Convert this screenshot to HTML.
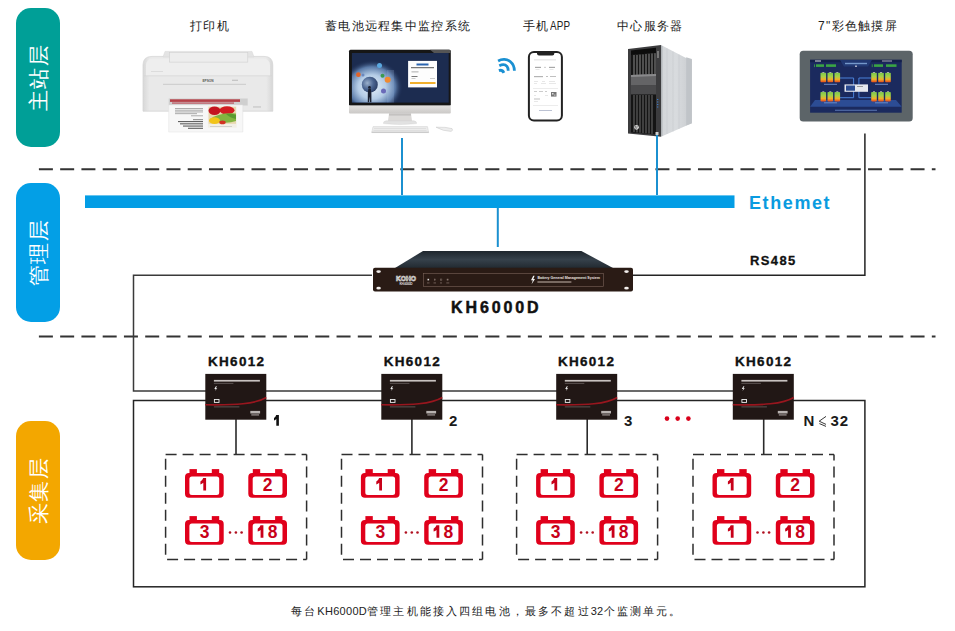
<!DOCTYPE html>
<html><head><meta charset="utf-8">
<style>
html,body{margin:0;padding:0;background:#fff;}
body{width:955px;height:631px;position:relative;overflow:hidden;font-family:"Liberation Sans",sans-serif;}
.a{position:absolute;}
.pill{position:absolute;left:16px;width:44px;height:139px;border-radius:15px;}
.pt{position:absolute;left:50%;top:50%;color:#fff;font-size:21px;line-height:21px;white-space:nowrap;transform:translate(-50%,-50%) rotate(-90deg);letter-spacing:1.5px;padding-left:1.5px;}
.lbl{position:absolute;font-size:12px;color:#222;white-space:nowrap;letter-spacing:1.3px;margin-top:1.5px;}
.kh{position:absolute;font-weight:bold;font-size:13.5px;color:#111;letter-spacing:1.3px;-webkit-text-stroke:0.35px #111;white-space:nowrap;}
.num{position:absolute;font-weight:bold;font-size:15px;color:#1a1a1a;white-space:nowrap;}
</style></head>
<body>
<!-- pills -->
<div class="pill" style="top:8px;background:#009f97;"><div class="pt">主站层</div></div>
<div class="pill" style="top:183px;background:#039fe6;"><div class="pt">管理层</div></div>
<div class="pill" style="top:421px;background:#f3a700;"><div class="pt">采集层</div></div>


<!-- printer -->
<svg class="a" style="left:0;top:0" width="955" height="160" viewBox="0 0 955 160">
  <defs>
    <linearGradient id="pside" x1="0" y1="0" x2="1" y2="0">
      <stop offset="0" stop-color="#d8d8d8"/>
      <stop offset="0.05" stop-color="#e9e9e9"/>
      <stop offset="0.95" stop-color="#e9e9e9"/>
      <stop offset="1" stop-color="#d6d6d6"/>
    </linearGradient>
  </defs>
  <path d="M143,111.2 V65 Q143,56.4 152,56.4 H264 Q272.8,56.4 272.8,65 V111.2 Z" fill="url(#pside)" stroke="#d2d2d2" stroke-width="0.7"/>
  <path d="M146,76 V66 Q146,58.5 153,58.5 H263 Q270,58.5 270,66 V76 Z" fill="#eeeeee"/>
  <path d="M163,57 L165,51.4 H252 L254,57 Z" fill="#e4e4e4" stroke="#d6d6d6" stroke-width="0.5"/>
  <rect x="169.4" y="52.3" width="78.4" height="9.8" fill="#ededed" stroke="#d0d0d0" stroke-width="0.6"/>
  <line x1="144" y1="75.8" x2="271.8" y2="75.8" stroke="#d4d4d4" stroke-width="0.7"/>
  <line x1="163" y1="84.3" x2="246" y2="84.3" stroke="#c6c6c6" stroke-width="0.9"/>
  <text x="208" y="81.8" font-family="Liberation Sans" font-weight="bold" font-size="3.2" fill="#555" text-anchor="middle">EPSON</text>
  <rect x="232" y="79.8" width="6" height="0.8" fill="#b0b0b0"/>
  <rect x="151" y="71" width="12" height="0.6" fill="#d0d0d0"/>
  <rect x="168.7" y="98.5" width="79" height="7" fill="#cfcfcf"/>
  <rect x="170" y="99.3" width="70" height="2.6" fill="#b54048"/>
  <rect x="172" y="102.3" width="62" height="1.6" fill="#c07078"/>
  <rect x="253" y="106.3" width="8" height="1.3" fill="#c8c8c8"/>
  <path d="M168.7,105 H242.8 V132 H168.7 Z" fill="#f7f7f7" stroke="#e0e0e0" stroke-width="0.5"/>
  <rect x="207.9" y="106.3" width="28.8" height="21.4" fill="#f2efe6"/>
  <rect x="208.6" y="106.8" width="27.4" height="17" fill="#e8d8b0"/>
  <ellipse cx="214.5" cy="110.8" rx="6" ry="4.2" fill="#c41420"/>
  <ellipse cx="227" cy="110.3" rx="7.5" ry="4" fill="#d21c22"/>
  <path d="M210,119 Q220,112 236,113.5 V121 Q228,124 218,122 Z" fill="#82b440"/>
  <path d="M226,114 Q231,113 236,115 V119 Q230,118 226,114 Z" fill="#5a9a30"/>
  <ellipse cx="214.5" cy="120.6" rx="5.5" ry="3.3" fill="#f2c418"/>
  <ellipse cx="222.5" cy="122.4" rx="3.2" ry="1.8" fill="#d23222"/>
  <rect x="210" y="126.2" width="22" height="0.6" fill="#bbb"/>
  <g fill="#8c8c8c">
    <rect x="175" y="108" width="28" height="0.7"/>
    <rect x="175" y="109.8" width="28" height="0.7"/>
    <rect x="175" y="111.6" width="28" height="0.7"/>
    <rect x="175" y="113.4" width="22" height="0.7"/>
    <rect x="191" y="115.5" width="12" height="0.7"/>
  </g>
  <g fill="#3c3c3c">
    <rect x="193" y="119.5" width="10" height="0.6"/>
    <rect x="178" y="121.2" width="25" height="0.9"/>
    <rect x="180" y="123.4" width="23" height="0.9"/>
    <rect x="183" y="125.6" width="20" height="0.9"/>
    <rect x="188" y="127.8" width="15" height="0.9"/>
  </g>
</svg>


<!-- monitor -->
<svg class="a" style="left:0;top:0" width="955" height="160" viewBox="0 0 955 160">
  <defs>
    <radialGradient id="glow" cx="0.5" cy="0.5" r="0.5">
      <stop offset="0" stop-color="#e6f0fa"/>
      <stop offset="0.45" stop-color="#b4cce6"/>
      <stop offset="0.75" stop-color="#5a7aa8"/>
      <stop offset="1" stop-color="#1c2c52" stop-opacity="0"/>
    </radialGradient>
    <radialGradient id="globe" cx="0.35" cy="0.4" r="0.75">
      <stop offset="0" stop-color="#9ab0cc"/>
      <stop offset="0.5" stop-color="#4a6490"/>
      <stop offset="1" stop-color="#24365c"/>
    </radialGradient>
    <linearGradient id="chin" x1="0" y1="0" x2="0" y2="1">
      <stop offset="0" stop-color="#e4e2e0"/>
      <stop offset="1" stop-color="#cac8c6"/>
    </linearGradient>
    <linearGradient id="neck" x1="0" y1="0" x2="1" y2="0">
      <stop offset="0" stop-color="#c8c8c8"/>
      <stop offset="0.5" stop-color="#ececec"/>
      <stop offset="1" stop-color="#c8c8c8"/>
    </linearGradient>
    <clipPath id="scr"><rect x="351.9" y="53" width="96.8" height="49.6"/></clipPath>
  </defs>
  <rect x="349" y="49.8" width="101.8" height="56" rx="1.5" fill="#161616"/>
  <path d="M430,49.8 H449.3 Q450.8,49.8 450.8,51.3 V53 H434 Z" fill="#555"/>
  <rect x="351.9" y="53" width="96.8" height="49.6" fill="#1c2c50"/>
  <g clip-path="url(#scr)">
    <ellipse cx="372" cy="87" rx="31" ry="27" fill="url(#glow)"/>
    <rect x="387" y="70" width="7" height="33" fill="#a8c4e4" opacity="0.2"/>
    <circle cx="369.8" cy="84.7" r="8" fill="url(#globe)"/>
    <path d="M368.4,88.6 h2.4 l0.6,5 v9 h-1.3 l-0.5,-6 l-0.5,6 h-1.3 v-9 z" fill="#1a2030"/>
    <circle cx="369.5" cy="87.2" r="1.3" fill="#1a2030"/>
    <circle cx="358.4" cy="74.7" r="2.4" fill="#e0642a"/>
    <circle cx="363" cy="75" r="1.5" fill="#6a88c0"/>
    <circle cx="379.5" cy="65.5" r="2.5" fill="#5aa8e0"/>
    <circle cx="382.5" cy="75.7" r="2" fill="#3a9a50"/>
    <circle cx="387.7" cy="79.7" r="3" fill="#f08a30"/>
    <circle cx="383.5" cy="91" r="2.5" fill="#6a6ab8"/>
    
  </g>
  <rect x="408.1" y="60.9" width="28.9" height="26.5" fill="#fdfdfd"/>
  <rect x="416.5" y="63.5" width="12" height="2" fill="#2a64b0"/>
  <rect x="411" y="67.2" width="23" height="1" fill="#555"/>
  <rect x="411.5" y="71.5" width="7" height="0.8" fill="#999"/>
  <rect x="411.5" y="76" width="6" height="0.8" fill="#555"/>
  <rect x="411.5" y="78" width="4" height="0.6" fill="#aaa"/>
  <rect x="430" y="78" width="5" height="0.6" fill="#aaa"/>
  <rect x="410" y="82.1" width="25.5" height="1.8" fill="#f0a818"/>
  <rect x="349" y="105.5" width="101.8" height="8" rx="1" fill="url(#chin)"/>
  <path d="M389,113.4 H411 L412,121 H388 Z" fill="#dcdad8"/><rect x="389" y="113.4" width="22" height="2.2" fill="#c4c2c0"/>
  <path d="M386,120.8 H414 Q417,121.5 416.5,123.6 Q400,125.6 383.5,123.6 Q383,121.5 386,120.8 Z" fill="#e2e2e2" stroke="#d0d0d0" stroke-width="0.4"/>
  <path d="M373,126.6 H427.5 L428.7,132.6 H371.7 Z" fill="#ececec" stroke="#d0d0d0" stroke-width="0.5"/>
  <g fill="#d2d2d2"><rect x="374" y="128.2" width="52" height="0.5"/><rect x="373.5" y="130" width="53" height="0.5"/></g><rect x="371.7" y="131.8" width="57" height="0.8" fill="#bbb"/>
  <path d="M436,127.2 Q446,126.8 452,128.6 Q453.5,130.6 451,131.4 Q443,131.2 436,127.2 Z" fill="#ededed" stroke="#c4c4c4" stroke-width="0.5"/>
</svg>


<!-- wifi, phone, server, touchscreen -->
<svg class="a" style="left:0;top:0" width="955" height="160" viewBox="0 0 955 160">
  <defs>
    <linearGradient id="side" x1="0" y1="0" x2="1" y2="0">
      <stop offset="0" stop-color="#a8acb0"/>
      <stop offset="0.08" stop-color="#d4d7da"/>
      <stop offset="0.5" stop-color="#d8dbde"/>
      <stop offset="0.85" stop-color="#cdd0d3"/>
      <stop offset="1" stop-color="#bcc0c4"/>
    </linearGradient>
    <linearGradient id="cell" x1="0" y1="0" x2="0" y2="1">
      <stop offset="0" stop-color="#7cc848"/>
      <stop offset="0.4" stop-color="#a8d048"/>
      <stop offset="0.7" stop-color="#f0b028"/>
      <stop offset="1" stop-color="#e84a1c"/>
    </linearGradient>
    <g id="cells">
      <rect x="0" y="0.8" width="5.6" height="9.4" rx="0.8" fill="url(#cell)"/>
      <rect x="7" y="0.8" width="5.6" height="9.4" rx="0.8" fill="url(#cell)"/>
      <rect x="14" y="0.8" width="5.6" height="9.4" rx="0.8" fill="url(#cell)"/>
      <rect x="1.8" y="0" width="2" height="1" fill="#aaa"/>
      <rect x="8.8" y="0" width="2" height="1" fill="#aaa"/>
      <rect x="15.8" y="0" width="2" height="1" fill="#aaa"/>
    </g>
  </defs>
  <!-- wifi -->
  <g stroke="#1a90d2" stroke-width="2.8" fill="none">
    <path d="M498.1,60.9 C501.8,58.9 507,58.9 510.2,61.5 C513,63.8 514.4,67 514.4,70.8"/>
    <path d="M499.3,65.8 C502.5,64.2 505.5,64.7 507,66.4 C508,67.6 508.2,69 508.2,70.8"/>
    <path d="M498.9,70.6 C500.8,69.9 502.8,70.6 503.9,72.8"/>
  </g>
  <!-- phone -->
  <rect x="528.9" y="52" width="33" height="68.4" rx="5" fill="#fff" stroke="#222" stroke-width="2"/>
  <path d="M537,52 H554.3 V53.5 Q554.3,55.4 552.3,55.4 H539 Q537,55.4 537,53.5 Z" fill="#222"/>
  <g fill="#d8d8d8">
    <rect x="534" y="59.5" width="22" height="0.8"/>
    <rect x="535" y="66.8" width="6" height="1.2" fill="#a8a8a8"/><rect x="549" y="66.8" width="6" height="1.2" fill="#a8a8a8"/>
    <rect x="544.5" y="66.8" width="1" height="1.2" fill="#a8a8a8"/>
    <rect x="535.5" y="69" width="4" height="0.6"/><rect x="549.5" y="69" width="4" height="0.6"/>
    <rect x="534" y="76" width="9" height="1.2" fill="#b4b4b4"/><rect x="546" y="76" width="2" height="1" fill="#c0c0c0"/><rect x="550" y="76" width="6" height="1" fill="#c0c0c0"/>
    <rect x="534" y="81.2" width="4" height="0.6"/><rect x="542" y="81.2" width="3" height="0.6"/><rect x="549" y="81.2" width="6" height="0.6"/>
    <rect x="534" y="83.3" width="3" height="0.6"/><rect x="541" y="83.3" width="5" height="0.6"/><rect x="549" y="83.3" width="7" height="0.6"/>
    <rect x="533" y="88" width="25" height="0.5"/>
    <rect x="534" y="91" width="3" height="0.8" fill="#c0c0c0"/><rect x="539" y="91" width="4" height="0.8" fill="#c0c0c0"/><rect x="545" y="91" width="2" height="0.8" fill="#c0c0c0"/>
    <rect x="534" y="95" width="2" height="0.6"/><rect x="545" y="95" width="3" height="0.6"/>
    <rect x="534" y="98.5" width="6" height="1" fill="#c0c0c0"/>
    <rect x="534" y="101" width="4" height="0.6"/>
    <rect x="533" y="105.5" width="25" height="0.5"/>
    <rect x="539" y="110" width="13" height="0.7" fill="#a0a8c0"/>
  </g>
  <rect x="551" y="92" width="5.5" height="4.6" fill="#777"/>
  <rect x="552" y="93" width="1.5" height="1.5" fill="#ddd"/><rect x="554" y="94.5" width="1.5" height="1.2" fill="#bbb"/>
  <!-- server -->
  <path d="M661,45 L687,58.5 L691.8,59.5 V123.2 L661,136.7 Z" fill="url(#side)"/>
  <g stroke="#c0c4c8" stroke-width="0.5"><line x1="667" y1="48.5" x2="667" y2="134"/><line x1="673" y1="51.5" x2="673" y2="131.5"/><line x1="679" y1="54.5" x2="679" y2="129"/></g>
  <path d="M686.2,57.3 L691.8,59 V123.2 L686.2,125.5 Z" fill="#c0c4c8"/>
  <path d="M628,48.9 L661,45 V136.7 L628,133.5 Z" fill="#3c3c3e"/>
  <path d="M631,50.5 L656,47.8 V53 L631,55 Z" fill="#0c0c0c"/>
  <path d="M631,55 L656,53 V74 L631,75 Z" fill="#151515"/>
  <g stroke="#8a8a8a" stroke-width="1">
    <line x1="634" y1="55" x2="634" y2="75"/><line x1="637" y1="55" x2="637" y2="75"/><line x1="640" y1="54.6" x2="640" y2="75"/><line x1="643" y1="54.4" x2="643" y2="75"/><line x1="646" y1="54" x2="646" y2="74.5"/><line x1="649" y1="53.8" x2="649" y2="74.5"/><line x1="652" y1="53.5" x2="652" y2="74.5"/><line x1="655" y1="53.2" x2="655" y2="74.5"/>
  </g>
  <path d="M631,75 L656,74 V85 L631,85.5 Z" fill="#646466"/><path d="M631,75 L656,74 V76 L631,77 Z" fill="#8a8a8c"/>
  <path d="M631,85.5 L656,85 V94.5 L631,94.5 Z" fill="#4a4a4c"/>
  <path d="M631,94.5 L656,94.5 V134.5 L631,132.5 Z" fill="#141414"/>
  <g stroke="#6a6a6a" stroke-width="1">
    <line x1="634" y1="95" x2="634" y2="132"/><line x1="637" y1="95" x2="637" y2="132.5"/><line x1="640" y1="95" x2="640" y2="132.7"/><line x1="643" y1="95" x2="643" y2="133"/><line x1="646" y1="95" x2="646" y2="133.3"/><line x1="649" y1="95" x2="649" y2="133.6"/><line x1="652" y1="95" x2="652" y2="133.9"/>
  </g>
  <g fill="#3a78c8"><rect x="657" y="99" width="1.3" height="1"/><rect x="657" y="101.5" width="1.3" height="1"/><rect x="657" y="104" width="1.3" height="1"/><rect x="657" y="106.5" width="1.3" height="1"/></g>
  <rect x="657" y="51" width="2" height="7" fill="#777"/>
  <circle cx="636.5" cy="127.3" r="2.4" fill="#e0e0e0"/>
  <path d="M635.6,125.8 L635,128.8 M637.2,125.8 L636.6,128.8" stroke="#333" stroke-width="0.6"/>
  <rect x="655.5" y="132" width="3" height="3" fill="#d0d0d0"/>
  <!-- touchscreen -->
  <rect x="799.7" y="50.8" width="113" height="70.8" rx="3.5" fill="#5c6468"/>
  <rect x="810.1" y="59.8" width="91.6" height="52.9" fill="#1b2a5e"/>
  <rect x="810.1" y="59.8" width="91.6" height="2.4" fill="#14204a"/>
  <path d="M840,60 H872 L868,66.5 H844 Z" fill="#243e7a" opacity="0.8"/>
  <g fill="#3aa444"><rect x="814" y="64.3" width="0.8" height="2.8"/><rect x="816" y="64.3" width="8" height="2.6"/><rect x="826" y="64.3" width="10" height="2.6"/>
  <rect x="871.8" y="64.3" width="0.8" height="2.8"/><rect x="874" y="64.3" width="9" height="2.6"/><rect x="886" y="64.3" width="10.5" height="2.6"/></g>
  <rect x="845" y="62.8" width="22" height="1.4" fill="#8ab0e0" opacity="0.8"/><rect x="855" y="65.6" width="2" height="1.2" fill="#ccd"/>
  <rect x="815" y="60.5" width="6" height="1" fill="#ddd"/>
  <rect x="882" y="60.5" width="10" height="1" fill="#aab"/>
  <path d="M815,100 H896 L901.7,106.8 H810.1 Z" fill="#2c4c94"/>
  <g stroke="#4a80d8" stroke-width="1" fill="none">
    <polyline points="840,78 853.6,78 853.6,97.7 840,97.7"/>
    <polyline points="871.2,78 858.9,78 858.9,97.7 871.2,97.7"/>
  </g>
  <use href="#cells" x="820.5" y="72"/>
  <use href="#cells" x="871.2" y="72"/>
  <use href="#cells" x="820.5" y="91.2"/>
  <use href="#cells" x="871.2" y="91.2"/>
  <g fill="#6a8ac8">
    <rect x="824" y="83.8" width="13" height="1"/><rect x="875" y="83.8" width="13" height="1"/>
    <rect x="824" y="102.3" width="13" height="1"/><rect x="875" y="102.3" width="13" height="1"/>
    <rect x="835" y="109.8" width="42" height="0.8"/>
  </g>
  <rect x="844.5" y="84.4" width="23.5" height="7.4" fill="#e6e8ee"/>
  <rect x="846" y="85.5" width="9" height="5.2" fill="#2a4a90"/>
  <rect x="857" y="86" width="6" height="1" fill="#999"/>
</svg>

<!-- top labels -->
<div class="lbl" style="left:190px;top:16px;">打印机</div>
<div class="lbl" style="left:325px;top:16px;">蓄电池远程集中监控系统</div>
<div class="lbl" style="left:523px;top:16px;">手机<span style="display:inline-block;letter-spacing:0.2px;transform:scaleX(0.82);transform-origin:0 50%;">APP</span></div>
<div class="lbl" style="left:617px;top:16px;">中心服务器</div>
<div class="lbl" style="left:818px;top:16px;">7"彩色触摸屏</div>

<svg class="a" style="left:0;top:0" width="955" height="631" viewBox="0 0 955 631">
  <g stroke="#333" stroke-width="2" stroke-dasharray="14 7.26" fill="none">
    <line x1="38.9" y1="169.2" x2="935.5" y2="169.2"/>
    <line x1="38.9" y1="336.5" x2="935.5" y2="336.5"/>
  </g>
  <rect x="85" y="195.4" width="649.5" height="12.6" fill="#039de5"/>
  <g stroke="#1b90d0" stroke-width="2">
    <line x1="402" y1="138" x2="402" y2="195"/>
    <line x1="657" y1="135" x2="657" y2="195"/>
    <line x1="497.8" y1="208" x2="497.8" y2="247"/>
  </g>
  <g stroke="#242424" stroke-width="1.5" fill="none">
    <polyline points="864.9,133.5 864.9,275.3 633,275.3"/>
    <polyline points="372,275.2 133.5,275.2 133.5,391.1 733,391.1" stroke="#3a3a3a"/>
    <rect x="133.5" y="400.5" width="731.4" height="186.3"/>
  </g>
  <g stroke="#2a2a2a" stroke-width="1.6">
    <line x1="236" y1="419" x2="236" y2="454.5"/>
    <line x1="411.9" y1="419" x2="411.9" y2="454.5"/>
    <line x1="587.2" y1="419" x2="587.2" y2="454.5"/>
    <line x1="763.7" y1="419" x2="763.7" y2="454.5"/>
  </g>
  <defs>
    <g id="dbox" stroke="#2e2e2e" stroke-width="1.5" stroke-dasharray="11 6" fill="none">
      <path d="M0,0 H141"/>
      <path d="M141,0 V105" stroke-dashoffset="5"/>
      <path d="M1.5,105.2 H141"/>
      <path d="M0,4.3 V101.5"/>
    </g>
  </defs>
  <use href="#dbox" x="165.6" y="454.4"/>
  <use href="#dbox" x="341.5" y="454.4"/>
  <use href="#dbox" x="516.6" y="454.4"/>
  <use href="#dbox" x="693" y="454.4"/>

  <defs>
    <g id="bat">
      <path fill-rule="evenodd" d="M4,4 H34.7 A4,4 0 0 1 38.7,8 V24.7 A4,4 0 0 1 34.7,28.7 H4 A4,4 0 0 1 0,24.7 V8 A4,4 0 0 1 4,4 Z M6.9,7.5 H31.7 A2.5,2.5 0 0 1 34.2,10 V23.3 A2.5,2.5 0 0 1 31.7,25.8 H6.9 A2.5,2.5 0 0 1 4.4,23.3 V10 A2.5,2.5 0 0 1 6.9,7.5 Z"/>
      <rect x="4.5" y="0" width="7.4" height="5"/>
      <rect x="26.8" y="0" width="7.4" height="5"/>
    </g>
    <path id="one" d="M2.8,0 H5.7 V12.6 H2.9 V4.7 Q1.6,5.8 0,6.4 V3.5 Q2,2.5 2.8,0 Z"/>
    <g id="grp">
      <g fill="#e0001b">
        <use href="#bat" x="19.5" y="14.6"/>
        <use href="#bat" x="82.8" y="14.6"/>
        <use href="#bat" x="19.5" y="61.6"/>
        <use href="#bat" x="82.8" y="61.6"/>
      </g>
      <g fill="#c80019" font-family="Liberation Sans" font-weight="bold" font-size="17.5" text-anchor="middle">
        <use href="#one" x="34.9" y="23.5"/>
        <text x="102.2" y="36.2">2</text>
        <use href="#one" x="92.2" y="70.7"/>
        <text x="107" y="83.3">8</text>
      </g>
      <g fill="#b01020"><circle cx="64.5" cy="78" r="1.3"/><circle cx="70.4" cy="78" r="1.3"/><circle cx="76.1" cy="78" r="1.3"/></g>
    </g>
  </defs>
  <use href="#grp" x="165.5" y="454.5"/>
  <use href="#grp" x="341.4" y="454.5"/>
  <use href="#grp" x="516.6" y="454.5"/>
  <use href="#grp" x="693" y="454.5"/>
  <g fill="#c80019" font-family="Liberation Sans" font-weight="bold" font-size="17.5" text-anchor="middle">
    <text x="204.5" y="537.8">3</text>
    <text x="380.4" y="537.8">3</text>
    <text x="555.6" y="537.8">3</text>
    <use href="#one" x="727.9" y="525.2"/>
  </g>
  <defs>
    <g id="khb">
      <rect x="0" y="0" width="61" height="45.8" fill="#211715"/>
      <path d="M0,30.9 C30,31.4 50,30.2 61,23.6" stroke="#98161e" stroke-width="1.6" fill="none"/>
      <rect x="8.6" y="6" width="46" height="1.7" fill="#c8c2c0"/>
      <rect x="8.6" y="9" width="19.5" height="0.8" fill="#6a6260"/>
      <path d="M10.6,12.4 L9,15.2 L10.5,15.2 L9.6,17.2 L12,14.3 L10.6,14.3 L11.6,12.4 Z" fill="#f0f0f0"/>
      <rect x="9.1" y="25.6" width="4.6" height="2.9" fill="none" stroke="#eee" stroke-width="0.9"/>
      <rect x="8.6" y="32.6" width="25.5" height="0.8" fill="#6a6260"/>
      <rect x="45" y="37" width="9.8" height="2.6" fill="#b8b2b0"/>
      <rect x="46" y="40.3" width="7.8" height="1.4" fill="#8a8280"/>
    </g>
  </defs>
  <use href="#khb" x="205.3" y="373.9"/>
  <use href="#khb" x="381.3" y="373.9"/>
  <use href="#khb" x="556.2" y="373.9"/>
  <use href="#khb" x="732.8" y="373.9"/>
  <defs>
    <linearGradient id="topg" x1="0" y1="0" x2="0" y2="1">
      <stop offset="0" stop-color="#1e262d"/>
      <stop offset="0.5" stop-color="#36414b"/>
      <stop offset="1" stop-color="#222a31"/>
    </linearGradient>
  </defs>
  <path d="M395,268 L423,251 L581.4,251 L613,268 Z" fill="url(#topg)"/>
  <rect x="373" y="267.8" width="260" height="23.6" rx="2" fill="#2a1b15"/>
  <g fill="#f4f0ee">
    <ellipse cx="378.6" cy="271.6" rx="2.3" ry="1.4"/>
    <ellipse cx="378.6" cy="288.2" rx="2.3" ry="1.4"/>
    <ellipse cx="626.5" cy="271.6" rx="2.3" ry="1.4"/>
    <ellipse cx="626.5" cy="288.2" rx="2.3" ry="1.4"/>
  </g>
  <rect x="423.4" y="273.4" width="180" height="13.2" fill="none" stroke="#7a6358" stroke-width="0.6"/>
  <text x="406" y="280.6" text-anchor="middle" font-family="Liberation Sans" font-weight="bold" font-size="6.6" fill="none" stroke="#eee" stroke-width="0.6" textLength="20" lengthAdjust="spacingAndGlyphs">KOHO</text>
  <text x="406" y="285.3" text-anchor="middle" font-family="Liberation Sans" font-weight="bold" font-size="3.2" fill="#ddd" textLength="13">KH-6000D</text>
  <g fill="#ddd"><rect x="427.5" y="278.8" width="1.6" height="1.6"/></g>
  <g fill="none" stroke="#9a8880" stroke-width="0.4"><rect x="434.2" y="279" width="1.3" height="1.3"/><rect x="440.6" y="279" width="1.3" height="1.3"/><rect x="447" y="279" width="1.3" height="1.3"/></g>
  <g fill="#8a7870"><rect x="427" y="282.6" width="2.5" height="0.7"/><rect x="433.5" y="282.6" width="2.5" height="0.7"/><rect x="440" y="282.6" width="2" height="0.7"/><rect x="446.3" y="282.6" width="3" height="0.7"/></g>
  <path d="M533.2,275.8 L531,280.2 L532.8,280.2 L531.6,284.3 L535,279 L533.3,279 L534.6,275.8 Z" fill="#f2f2f2"/>
  <text x="537.4" y="279" font-family="Liberation Sans" font-weight="bold" font-size="4.1" fill="#ece6e2" textLength="62.5" lengthAdjust="spacingAndGlyphs">Battery General Management System</text>
  <rect x="537.4" y="281.3" width="34" height="1.4" fill="#9a8a82"/>
  <g fill="#d9001b">
    <circle cx="667" cy="418.6" r="2.3"/>
    <circle cx="677.7" cy="418.6" r="2.3"/>
    <circle cx="688.4" cy="418.6" r="2.3"/>
  </g>
</svg>

<div class="a" style="left:749px;top:192.5px;font-weight:bold;font-size:18px;color:#0a9be0;letter-spacing:1.6px;">Ethemet</div>
<div class="a" style="left:750px;top:253px;font-weight:bold;font-size:13px;color:#111;letter-spacing:1.4px;-webkit-text-stroke:0.3px #111;">RS485</div>
<div class="a" style="left:451px;top:298.8px;font-weight:bold;font-size:16px;color:#111;letter-spacing:2.9px;-webkit-text-stroke:0.5px #111;">KH6000D</div>

<div class="kh" style="left:208px;top:353.5px;">KH6012</div>
<div class="kh" style="left:383.7px;top:353.5px;">KH6012</div>
<div class="kh" style="left:557.9px;top:353.5px;">KH6012</div>
<div class="kh" style="left:735px;top:353.5px;">KH6012</div>
<svg class="a" style="left:270px;top:410px" width="12" height="18" viewBox="270 410 12 18"><path d="M276.2,415 H278.9 V425.7 H276.3 V419.1 Q275.2,420.1 274,420.6 V418.1 Q275.7,417.2 276.2,415 Z" fill="#111"/></svg>
<div class="num" style="left:449px;top:412px;">2</div>
<div class="num" style="left:624px;top:412px;">3</div>
<div class="num" style="left:803.5px;top:412px;">N</div>
<svg class="a" style="left:815px;top:412px" width="15" height="18" viewBox="815 412 15 18"><path d="M826,416.4 L819.2,421.2 L826,424.4 M819.4,423.6 L826,426.4" stroke="#222" stroke-width="0.9" fill="none"/></svg>
<div class="num" style="left:830.5px;top:412px;letter-spacing:1px;">32</div>

<div class="a" style="left:291px;top:604px;font-size:11px;color:#222;letter-spacing:2.15px;white-space:nowrap;">每台<span style="letter-spacing:0.3px">KH6000D</span>管理主机能接入四组电池，最多不超过<span style="letter-spacing:0.3px">32</span>个监测单元。</div>
</body></html>
